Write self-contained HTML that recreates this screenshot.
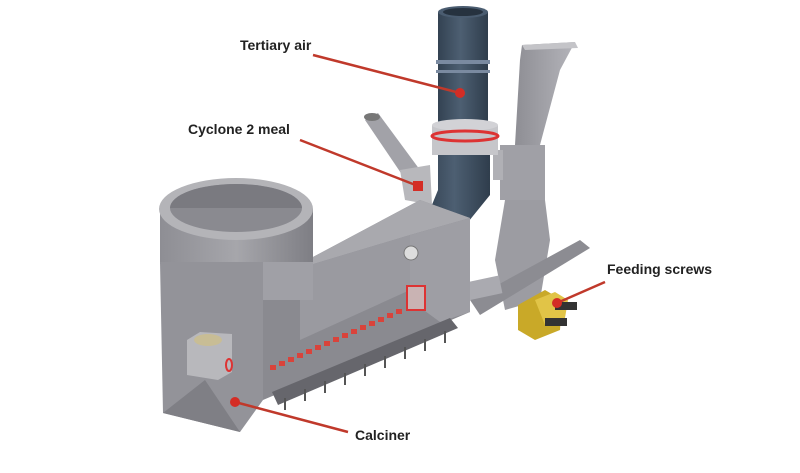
<!DOCTYPE html>
<html><head><meta charset="utf-8"><style>
html,body{margin:0;padding:0;background:#fff;}
svg{display:block}
text{font-family:"Liberation Sans",sans-serif;font-size:14px;font-weight:bold;fill:#222}
</style></head><body>
<svg width="800" height="473" viewBox="0 0 800 473" xmlns="http://www.w3.org/2000/svg">
<defs>
<linearGradient id="cyl" x1="0" x2="1"><stop offset="0" stop-color="#8e8e94"/><stop offset="0.5" stop-color="#a6a6ab"/><stop offset="1" stop-color="#7e7e84"/></linearGradient>
<linearGradient id="blue" x1="0" x2="1"><stop offset="0" stop-color="#334252"/><stop offset="0.45" stop-color="#4d5f72"/><stop offset="1" stop-color="#2f3d4c"/></linearGradient>
<linearGradient id="fun" x1="0" x2="1"><stop offset="0" stop-color="#8e8e94"/><stop offset="1" stop-color="#b4b4ba"/></linearGradient>
</defs>
<!-- right funnel/chute -->
<polygon points="522,45 575,42 560,70 540,145 515,145 520,60" fill="url(#fun)"/>
<polygon points="522,45 575,42 578,48 525,50" fill="#c4c4c8"/>
<rect x="500" y="145" width="45" height="55" fill="#a0a0a6"/>
<rect x="493" y="150" width="10" height="30" fill="#b0b0b5"/>
<polygon points="505,200 545,200 550,240 540,300 505,310 495,260" fill="#9c9ca2"/>
<polygon points="470,300 580,240 590,248 480,315" fill="#8c8c92"/>
<!-- yellow feeders -->
<polygon points="518,305 545,290 562,300 560,330 535,340 518,330" fill="#c9a928"/>
<polygon points="535,300 555,292 568,300 565,318 545,325" fill="#e1c447"/>
<rect x="555" y="302" width="22" height="8" fill="#333"/>
<rect x="545" y="318" width="22" height="8" fill="#333"/>
<rect x="440" y="288" width="60" height="18" fill="#aaaab0" transform="rotate(-12 440 288)"/>
<!-- small cyclone pipe -->
<polygon points="365,120 378,113 420,170 407,182" fill="#a2a2a8"/>
<ellipse cx="372" cy="117" rx="8" ry="4" fill="#777"/>
<polygon points="400,170 430,165 432,205 405,200" fill="#b8b8bc"/>
<!-- blue pipe -->
<rect x="438" y="12" width="50" height="115" fill="url(#blue)"/>
<ellipse cx="463" cy="12" rx="25" ry="6" fill="#4a5c70"/>
<ellipse cx="463" cy="12" rx="20" ry="4" fill="#26323f"/>
<rect x="436" y="60" width="54" height="4" fill="#7a8aa0"/>
<rect x="436" y="70" width="54" height="3" fill="#7a8aa0"/>
<rect x="432" y="125" width="66" height="30" fill="#c6c6ca"/>
<ellipse cx="465" cy="125" rx="33" ry="6" fill="#d2d2d6"/>
<ellipse cx="465" cy="136" rx="33" ry="5" fill="none" stroke="#d33" stroke-width="3"/>
<polygon points="438,155 490,155 490,195 460,232 425,222 438,190" fill="url(#blue)"/>
<!-- long body -->
<polygon points="263,262 313,257 420,200 470,218 470,312 263,400" fill="#8a8a90"/>
<polygon points="263,262 313,257 420,200 470,218 410,235 300,268" fill="#a9a9ae"/>
<polygon points="300,268 410,235 410,290 300,340" fill="#9a9aa0"/>
<polygon points="410,235 470,218 470,312 440,322 410,300" fill="#9e9ea4"/>
<circle cx="411" cy="253" r="7" fill="#ddd" stroke="#777"/>
<rect x="407" y="286" width="18" height="24" fill="#c9b3b3" stroke="#d33" stroke-width="2"/>
<polygon points="272,392 450,318 458,328 278,405" fill="#66666c"/>
<g stroke="#555" stroke-width="2">
<line x1="285" y1="398" x2="285" y2="410"/><line x1="305" y1="389" x2="305" y2="401"/><line x1="325" y1="381" x2="325" y2="393"/><line x1="345" y1="373" x2="345" y2="385"/><line x1="365" y1="364" x2="365" y2="376"/><line x1="385" y1="356" x2="385" y2="368"/><line x1="405" y1="347" x2="405" y2="359"/><line x1="425" y1="339" x2="425" y2="351"/><line x1="445" y1="331" x2="445" y2="343"/>
</g>
<g fill="#d9433b">
<rect x="270" y="365" width="6" height="5"/><rect x="279" y="361" width="6" height="5"/><rect x="288" y="357" width="6" height="5"/><rect x="297" y="353" width="6" height="5"/><rect x="306" y="349" width="6" height="5"/><rect x="315" y="345" width="6" height="5"/><rect x="324" y="341" width="6" height="5"/><rect x="333" y="337" width="6" height="5"/><rect x="342" y="333" width="6" height="5"/><rect x="351" y="329" width="6" height="5"/><rect x="360" y="325" width="6" height="5"/><rect x="369" y="321" width="6" height="5"/><rect x="378" y="317" width="6" height="5"/><rect x="387" y="313" width="6" height="5"/><rect x="396" y="309" width="6" height="5"/>
</g>
<!-- left cylinder and box -->
<rect x="160" y="209" width="153" height="55" fill="url(#cyl)"/>
<polygon points="160,262 263,262 263,400 240,432 163,413" fill="#939399"/>
<polygon points="163,413 205,380 240,432" fill="#7f7f85"/>
<polygon points="263,262 313,262 313,300 263,300" fill="#a0a0a6"/>
<ellipse cx="236" cy="209" rx="77" ry="31" fill="#b4b4b8"/>
<ellipse cx="236" cy="208" rx="66" ry="24" fill="#8a8a90"/>
<path d="M170,208 A66,24 0 0 1 302,208" fill="#7a7a80"/>
<polygon points="187,340 200,332 232,334 232,372 218,380 187,375" fill="#b8b8bc"/>
<ellipse cx="208" cy="340" rx="14" ry="6" fill="#c8bd95"/>
<ellipse cx="229" cy="365" rx="3" ry="6" fill="none" stroke="#d33" stroke-width="2"/>
<!-- labels -->
<g stroke="#c0392b" stroke-width="2.5" fill="none">
<line x1="313" y1="55" x2="460" y2="93"/>
<line x1="300" y1="140" x2="418" y2="186"/>
<line x1="605" y1="282" x2="557" y2="303"/>
<line x1="348" y1="432" x2="235" y2="402"/>
</g>
<g fill="#d42d25">
<circle cx="460" cy="93" r="5"/><rect x="413" y="181" width="10" height="10"/><circle cx="557" cy="303" r="5"/><circle cx="235" cy="402" r="5"/>
</g>
<text x="240" y="50">Tertiary air</text>
<text x="188" y="134">Cyclone 2 meal</text>
<text x="607" y="274">Feeding screws</text>
<text x="355" y="440">Calciner</text>
</svg>
</body></html>
